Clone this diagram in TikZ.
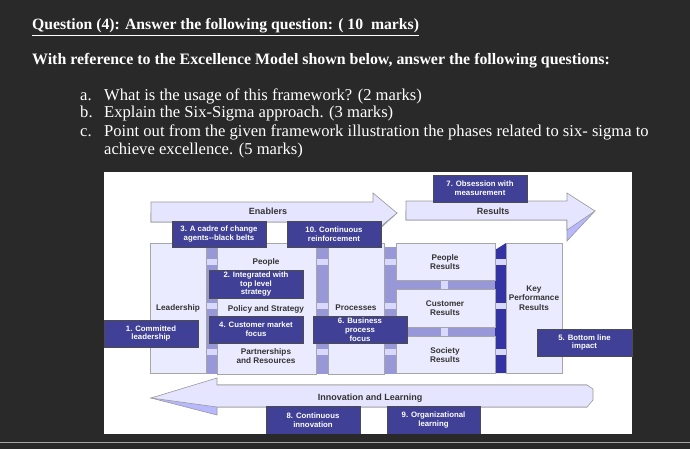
\documentclass[tikz,border=0pt]{standalone}
\usepackage{fontspec}
\setmainfont{Liberation Serif}
\newfontfamily\dsans{Liberation Sans}
\begin{document}
\begin{tikzpicture}[x=1pt,y=-1pt,
  txt/.style={text=white,anchor=base west,inner sep=0pt,font=\fontsize{16.6}{18}\selectfont},
  navy/.style={draw=black!70,fill=blue!45!black!75!white,text=white,font=\dsans\bfseries\fontsize{7.8}{8.8}\selectfont,align=center,inner sep=0pt},
  col/.style={draw=gray!70,fill=white!92!blue,line width=0.6pt},
  lab/.style={font=\dsans\bfseries\fontsize{8.2}{9.4}\selectfont,align=center,text=black!80,inner sep=0pt},
  big/.style={font=\dsans\bfseries\fontsize{9}{10}\selectfont},
  conn/.style={fill=blue!30!white!85!black,draw=none},
  lite/.style={fill=white!85!blue,draw=none},
  arr/.style={draw=gray!80,fill=blue!10!white,line width=0.6pt},
  arrd/.style={draw=gray!80,fill=blue!28!white,line width=0.6pt}]
\fill[black!84] (0,0) rectangle (690,449);
\useasboundingbox (0,0) rectangle (690,449);
% text
\node[txt,font=\bfseries\fontsize{15.7}{18}\selectfont] (q) at (32,30) {\underline{Question (4): Answer the following question: ( 10\ \ marks)}};
\node[txt,font=\bfseries\fontsize{15.9}{18}\selectfont] (w) at (32,65) {With reference to the Excellence Model shown below, answer the following questions:};
\node[txt] (la) at (80,101) {a.};
\node[txt] (a) at (104,101) {What is the usage of this framework? (2 marks)};
\node[txt] (lb) at (80,118) {b.};
\node[txt] (b) at (104,118) {Explain the Six-Sigma approach. (3 marks)};
\node[txt] (lc) at (80,137) {c.};
\node[txt] (c) at (104,137) {Point out from the given framework illustration the phases related to six- sigma to};
\node[txt] (c2) at (104,155) {achieve excellence. (5 marks)};
% panel
\fill[white] (104,172) rectangle (632,434);
\draw[gray!70,line width=0.8pt] (0,442) -- (690,442);
% Enablers arrow
\draw[arrd] (151,222) -- (373,222) -- (373,235) -- (397,213) -- (151,213) -- cycle;
\draw[arr] (151,202) -- (373,202) -- (373,193) -- (397,213) -- (373,233) -- (373,222) -- (151,222) -- cycle;
\node[lab,big] (en) at (268,211) {Enablers};
% Results arrow
\draw[arrd] (406,220) -- (567,220) -- (567,241) -- (595,211) -- (406,211) -- cycle;
\draw[arr] (406,201) -- (567,201) -- (567,193) -- (595,211) -- (567,230) -- (567,220) -- (406,220) -- cycle;
\node[lab,big] (re) at (493,211) {Results};
% connectors
\foreach \xa/\xb in {206/217,316/328,384/396}{
  \fill[conn] (\xa,247) rectangle (\xb,374);
  \foreach \yy in {262,306,352}{\fill[lite] (\xa,\yy-3) rectangle (\xb,\yy+3);}
}
\fill[blue!55!black!80!white] (495,250) -- (506,243) -- (506,373) -- (495,373) -- cycle;
\foreach \yy in {262,306,352}{\fill[lite] (495,\yy-3) rectangle (506,\yy+3);}
\fill[conn] (396,280) rectangle (495,289);
\fill[conn] (396,327) rectangle (495,336);
\fill[lite] (441,280) rectangle (448,289);
\fill[lite] (441,327) rectangle (448,336);
% columns
\draw[col] (150,243) rectangle (206,373);
\draw[col] (217,243) rectangle (316,374);
\draw[col] (328,243) rectangle (384,374);
\draw[col] (396,243) rectangle (495,280);
\draw[col] (396,289) rectangle (495,327);
\draw[col] (396,336) rectangle (495,373);
\draw[col] (506,243) rectangle (562,373);
\node[lab] (lead) at (178,308) {Leadership};
\node[lab] (peo) at (266,262) {People};
\node[lab] (pol) at (266,309) {Policy and Strategy};
\node[lab] (par) at (266,356) {Partnerships\\and Resources};
\node[lab] (pro) at (356,308) {Processes};
\node[lab] (pr) at (445,262) {People\\Results};
\node[lab] (cr) at (445,308) {Customer\\Results};
\node[lab] (sr) at (445,355) {Society\\Results};
\node[lab] (kp) at (534,298) {Key\\Performance\\Results};
% Innovation arrow
\draw[arrd] (217,407) -- (217,415) -- (151,398) -- (217,385) -- (587,385) -- (587,407) -- cycle;
\draw[arr] (151,398) -- (217,378) -- (217,385) -- (587,385) -- (593,389) -- (593,400) -- (587,407) -- (217,407) -- cycle;
\node[lab,big] (il) at (370,398) {Innovation and Learning};
% navy boxes
\node[navy,minimum width=94pt,minimum height=26pt] (n3) at (219,234) {3. A cadre of change\\agents--black belts};
\node[navy,minimum width=94pt,minimum height=26pt] (n10) at (334,234) {10. Continuous\\reinforcement};
\node[navy,minimum width=94pt,minimum height=28pt] (n2) at (256,284) {2. Integrated with\\top level\\strategy};
\node[navy,minimum width=94pt,minimum height=27pt] (n4) at (256,329.5) {4. Customer market\\focus};
\node[navy,minimum width=94pt,minimum height=27pt] (n1) at (151,333.5) {1. Committed\\leadership};
\node[navy,minimum width=94pt,minimum height=27pt] (n6) at (360,329.5) {6. Business\\process\\focus};
\node[navy,minimum width=94pt,minimum height=27pt] (n7) at (480,188.5) {7. Obsession with\\measurement};
\node[navy,minimum width=95pt,minimum height=27pt] (n5) at (584.5,342.5) {5. Bottom line\\impact};
\node[navy,minimum width=94pt,minimum height=28pt] (n8) at (313,420) {8. Continuous\\innovation};
\node[navy,minimum width=93pt,minimum height=28pt] (n9) at (433.5,420) {9. Organizational\\learning};
\fill[black!84] (104,434.3) rectangle (632,441);
\end{tikzpicture}
\end{document}
